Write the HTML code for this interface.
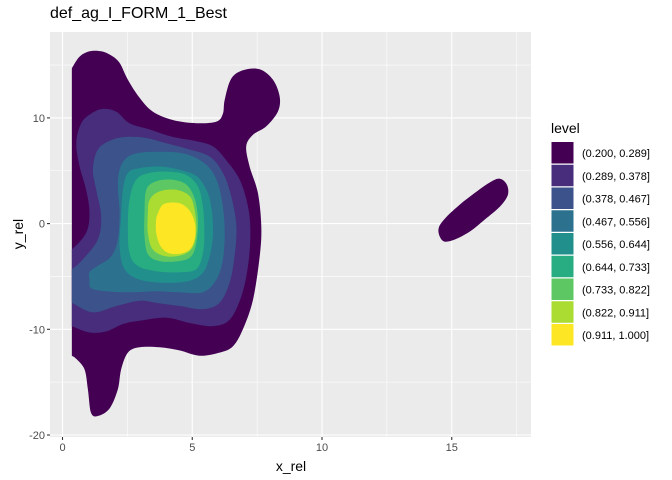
<!DOCTYPE html>
<html><head><meta charset="utf-8"><style>
body{margin:0;background:#fff;}
svg{display:block;font-family:"Liberation Sans",Arial,sans-serif;}
</style></head><body>
<svg id="chart" width="672" height="480" viewBox="0 0 672 480"></svg>
<script>
const xTicks=[0,5,10,15];
const yTicks=[-20,-10,0,10];
const levelLabels=["(0.200, 0.289]","(0.289, 0.378]","(0.378, 0.467]","(0.467, 0.556]","(0.556, 0.644]","(0.644, 0.733]","(0.733, 0.822]","(0.822, 0.911]","(0.911, 1.000]"];
const levelColors=["#440154","#472D7B","#3B528B","#2C728E","#21908C","#27AD81","#5DC863","#AADC32","#FDE725"];
const level1=[[0.2,14.0],[0.36,14.7],[0.66,15.8],[1.04,16.3],[1.49,16.3],[1.88,15.9],[2.2,15.2],[2.52,13.6],[2.97,11.9],[3.48,10.6],[4.25,9.8],[5.16,9.5],[5.93,9.65],[6.18,10.4],[6.25,11.7],[6.5,13.7],[6.95,14.5],[7.6,14.6],[8.11,13.6],[8.37,12.0],[8.3,10.6],[7.85,9.2],[7.34,8.4],[7.08,7.3],[7.21,5.4],[7.53,2.9],[7.66,-0.25],[7.6,-3.1],[7.34,-7.2],[6.95,-10.0],[6.57,-11.6],[6.05,-12.2],[5.28,-12.5],[4.51,-12.0],[3.74,-11.7],[2.97,-11.7],[2.52,-12.2],[2.26,-13.8],[2.13,-15.7],[1.81,-17.5],[1.36,-18.2],[1.1,-17.9],[0.98,-15.7],[0.85,-13.8],[0.53,-12.8],[0.36,-12.5],[0.1,-12.2],[0.0,0.0]];
const level1b=[[14.54,-1.23],[14.5,-0.38],[14.77,0.57],[15.31,1.8],[15.89,2.9],[16.47,3.9],[16.85,4.25],[17.12,3.7],[17.16,2.7],[16.85,1.6],[16.27,0.38],[15.7,-0.75],[15.12,-1.5],[14.73,-1.7]];
const level2=[[0.36,-2.45],[0.91,-0.88],[1.04,1.0],[0.91,3.2],[0.66,5.4],[0.53,7.6],[0.72,9.5],[1.1,10.4],[1.55,10.85],[2.07,10.6],[2.58,9.5],[3.36,8.9],[4.25,8.2],[5.16,7.8],[5.8,7.3],[6.31,6.0],[6.83,4.15],[7.15,1.6],[7.24,-0.88],[7.15,-4.0],[6.89,-6.9],[6.44,-9.1],[5.8,-9.7],[4.9,-9.4],[4.0,-8.9],[2.97,-9.2],[2.33,-9.5],[1.69,-10.2],[1.04,-10.3],[0.36,-9.7],[0.0,-9.4],[-0.1,-6.0],[0.0,-2.8]];
const level3=[[0.36,-4.3],[0.78,-3.4],[1.36,-1.5],[1.49,0.69],[1.3,3.2],[1.17,5.1],[1.36,7.0],[1.88,7.9],[2.46,8.2],[3.23,8.1],[4.0,7.6],[4.77,7.1],[5.67,6.35],[6.18,4.8],[6.5,2.6],[6.7,-0.25],[6.63,-3.1],[6.44,-5.6],[6.05,-7.5],[5.41,-8.1],[4.51,-7.8],[3.61,-7.5],[2.97,-7.3],[2.07,-7.8],[1.17,-8.4],[0.36,-7.5],[0.0,-7.2],[-0.1,-6.0],[0.0,-4.6]];
const level4=[[1.04,-5.3],[1.04,-4.6],[1.36,-4.0],[1.88,-3.1],[2.13,-1.5],[2.2,1.0],[2.13,3.5],[2.2,5.1],[2.46,6.2],[2.97,6.7],[3.74,6.8],[4.51,6.7],[5.16,6.2],[5.67,5.25],[5.99,3.8],[6.18,1.6],[6.25,-0.88],[6.18,-3.4],[5.93,-5.3],[5.41,-6.5],[4.51,-6.5],[3.61,-6.4],[2.71,-6.5],[1.69,-6.4],[1.1,-6.1]];
const level5=[[2.52,4.8],[2.97,5.25],[3.74,5.4],[4.51,5.1],[5.16,4.5],[5.54,3.2],[5.73,1.6],[5.8,-0.88],[5.67,-3.1],[5.41,-4.65],[4.9,-5.4],[4.0,-5.6],[2.97,-5.3],[2.39,-4.3],[2.2,-2.2],[2.26,0.69],[2.33,3.2]];
const level6=[[2.84,4.15],[3.36,4.8],[4.13,4.9],[4.77,4.6],[5.22,3.5],[5.41,1.6],[5.47,-0.88],[5.41,-2.8],[5.16,-4.3],[4.51,-4.6],[3.61,-4.5],[2.9,-4.0],[2.58,-2.8],[2.52,-0.25],[2.58,2.26]];
const level7=[[3.23,3.2],[3.61,4.0],[4.25,4.15],[4.77,3.7],[5.09,2.4],[5.22,0.38],[5.16,-1.8],[4.96,-3.1],[4.51,-3.55],[3.74,-3.55],[3.29,-2.9],[3.16,-1.2],[3.16,1.0]];
const level8=[[3.36,2.26],[3.74,3.05],[4.38,3.2],[4.9,2.6],[5.09,1.3],[5.16,-0.57],[5.03,-2.2],[4.64,-2.95],[4.0,-3.1],[3.48,-2.45],[3.29,-0.88],[3.29,1.0]];
const level9=[[3.68,1.0],[3.87,1.8],[4.25,2.0],[4.64,1.8],[4.96,1.0],[5.12,-0.25],[5.09,-1.5],[4.9,-2.45],[4.51,-2.86],[4.06,-2.77],[3.77,-2.1],[3.61,-0.88],[3.61,0.38]];

const NS="http://www.w3.org/2000/svg";
const svg=document.getElementById('chart');
const PL=50,PR=531,PT=32,PB=437;
const XMIN_CLIP=0.36;
function xs(v){return 62.5+25.95*v;}
function ys(v){return 223.6-10.57*v;}
function mk(tag,attrs,parent){const e=document.createElementNS(NS,tag);for(const k in attrs)e.setAttribute(k,attrs[k]);(parent||svg).appendChild(e);return e;}
function smoothPath(pts){
  const P=pts.map(p=>[xs(p[0]),ys(p[1])]);
  const n=P.length;let d='M'+P[0][0].toFixed(1)+','+P[0][1].toFixed(1);
  for(let i=0;i<n;i++){
    const p0=P[(i-1+n)%n],p1=P[i],p2=P[(i+1)%n],p3=P[(i+2)%n];
    const c1=[p1[0]+(p2[0]-p0[0])/6,p1[1]+(p2[1]-p0[1])/6];
    const c2=[p2[0]-(p3[0]-p1[0])/6,p2[1]-(p3[1]-p1[1])/6];
    d+='C'+c1[0].toFixed(1)+','+c1[1].toFixed(1)+' '+c2[0].toFixed(1)+','+c2[1].toFixed(1)+' '+p2[0].toFixed(1)+','+p2[1].toFixed(1);
  }
  return d+'Z';
}

const panel=mk('rect',{x:PL,y:PT,width:PR-PL,height:PB-PT,fill:'#EBEBEB'});


const grid=mk('g',{});


for(let v=-2.5;v<=17.5;v+=5){mk('line',{x1:xs(v),x2:xs(v),y1:PT,y2:PB,stroke:'#fff','stroke-width':0.55},grid);}
for(let v=-15;v<=15;v+=10){mk('line',{y1:ys(v),y2:ys(v),x1:PL,x2:PR,stroke:'#fff','stroke-width':0.55},grid);}
xTicks.forEach(v=>mk('line',{x1:xs(v),x2:xs(v),y1:PT,y2:PB,stroke:'#fff','stroke-width':1.1},grid));
yTicks.forEach(v=>mk('line',{y1:ys(v),y2:ys(v),x1:PL,x2:PR,stroke:'#fff','stroke-width':1.1},grid));

const defs=mk('defs',{});
const cp=mk('clipPath',{id:'leftclip'},defs);
mk('rect',{x:xs(XMIN_CLIP),y:0,width:600,height:480},cp);

const levels=[[level1,level1b],[level2],[level3],[level4],[level5],[level6],[level7],[level8],[level9]];
const cg=mk('g',{'clip-path':'url(#leftclip)'});


levels.forEach((polys,i)=>{
  polys.forEach((pts,j)=>{
    const p=mk('path',{d:smoothPath(pts),fill:levelColors[i]},cg);
    
    
  });
});

xTicks.forEach(v=>{
  mk('line',{x1:xs(v),x2:xs(v),y1:PB,y2:PB+3,stroke:'#333','stroke-width':1.1});
  const t=mk('text',{x:xs(v),y:PB+14,'text-anchor':'middle','font-size':11,fill:'#4D4D4D'});
  t.textContent=v;
  
  
});
yTicks.forEach(v=>{
  mk('line',{x1:PL-3,x2:PL,y1:ys(v),y2:ys(v),stroke:'#333','stroke-width':1.1});
  const t=mk('text',{x:PL-5,y:ys(v)+4,'text-anchor':'end','font-size':11,fill:'#4D4D4D'});
  t.textContent=v;
  
  
});

const lg=mk('g',{});


levelLabels.forEach((lab,i)=>{
  const y=142+i*22.75;
  const r=mk('rect',{x:551.5,y:y,width:22,height:21.5,fill:levelColors[i]},lg);
  
  
  const t=mk('text',{x:582,y:y+15,'font-size':11,fill:'#000'},lg);
  t.textContent=lab;
  
  
});
</script>
<div style="position:absolute;left:0;top:0;width:672px;height:480px;pointer-events:none;font-family:'Liberation Sans',Arial,sans-serif;">
  <div style="position:absolute;left:50px;top:5px;font-size:16px;color:#000;">def_ag_I_FORM_1_Best</div>
  <div style="position:absolute;left:271px;top:458px;width:40px;text-align:center;font-size:14px;color:#000;">x_rel</div>
  <div style="position:absolute;left:-2px;top:226px;width:40px;text-align:center;font-size:14px;color:#000;transform:rotate(-90deg);">y_rel</div>
  <div style="position:absolute;left:551px;top:120px;font-size:14px;color:#000;">level</div>
</div>
</body></html>
